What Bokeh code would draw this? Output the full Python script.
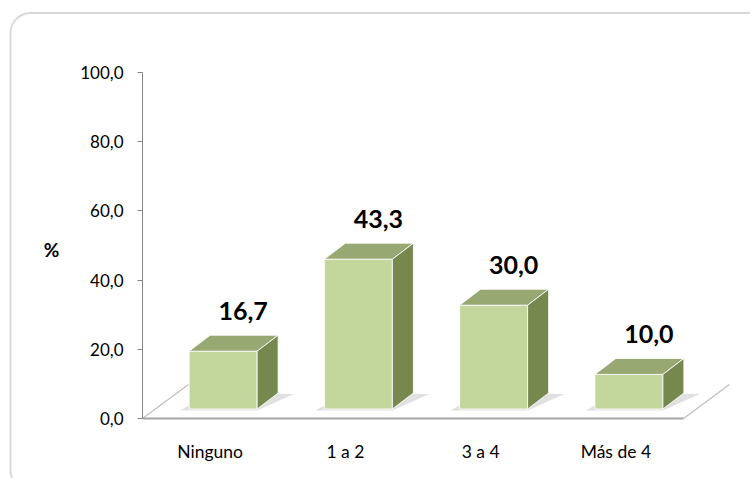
from bokeh.plotting import figure
from bokeh.models import Range1d, FixedTicker, BoxAnnotation, Label, ColumnDataSource
from bokeh.embed import file_html
from bokeh.resources import INLINE
from bokeh.core.properties import value

# ---- data ----
categories = ["Ninguno", "1 a 2", "3 a 4", "Más de 4"]
percentages = [16.7, 43.3, 30.0, 10.0]
value_labels = ["16,7", "43,3", "30,0", "10,0"]
y_ticks = [0, 20, 40, 60, 80, 100]
y_tick_labels = ["0,0", "20,0", "40,0", "60,0", "80,0", "100,0"]

# ---- layout constants (pixels) ----
W, H = 750, 478
AX_X, AX_Y = 142, 418          # pixel position of the axes origin (from top-left)
PXX = (683 - 142) / 4.0        # pixels per category unit
PXY = 3.46                     # pixels per percent unit

FRONT = "#C3D69B"
TOPC = "#98A872"
SIDE = "#77884F"

p = figure(width=W, height=H, output_backend="svg", toolbar_location=None,
           x_range=Range1d(-AX_X / PXX, (W - AX_X) / PXX),
           y_range=Range1d(-(H - AX_Y) / PXY, AX_Y / PXY),
           min_border_left=0, min_border_right=0,
           min_border_top=0, min_border_bottom=0, min_border=0)
p.outline_line_color = None
p.xgrid.visible = False
p.ygrid.visible = False
p.background_fill_color = "white"
p.border_fill_color = "white"

# y axis
yax = p.yaxis[0]
yax.fixed_location = 0
yax.ticker = FixedTicker(ticks=y_ticks)
yax.major_label_overrides = {t: l for t, l in zip(y_ticks, y_tick_labels)}
yax.bounds = (0, 100)
yax.axis_line_color = "#868686"
yax.major_tick_line_color = "#868686"
yax.major_tick_out = 5
yax.major_tick_in = 0
yax.minor_tick_line_color = None
yax.major_label_standoff = 14
yax.major_label_text_font = "Lato"
yax.major_label_text_font_size = "17px"
yax.major_label_text_color = "#000000"

# x axis (front edge of floor)
n = len(categories)
centers = [i + 0.5 for i in range(n)]
xax = p.xaxis[0]
xax.fixed_location = 0
xax.ticker = FixedTicker(ticks=centers)
xax.major_label_overrides = {c: lab for c, lab in zip(centers, categories)}
xax.bounds = (0, n)
xax.axis_line_color = "#A6A6A6"
xax.axis_line_width = 2
xax.major_tick_line_color = None
xax.minor_tick_line_color = None
xax.major_label_standoff = 16
xax.major_label_text_font = "Lato"
xax.major_label_text_font_size = "17.5px"
xax.major_label_text_color = "#000000"

# rounded chart-area border
p.add_layout(BoxAnnotation(left=10, right=767, top=H - 12.5, bottom=H - 490,
                           left_units="screen", right_units="screen",
                           top_units="screen", bottom_units="screen",
                           fill_color=None, fill_alpha=0,
                           line_color="#7A7A7A", line_width=1.8,
                           border_radius=20, level="overlay"))

# floor side edges
fdx, fdy = 46 / PXX, 34 / PXY
p.segment(x0=[0, n], y0=[0, 0], x1=[0 + fdx, n + fdx], y1=[fdy, fdy],
          line_color="#BFBFBF", line_width=1.2)

# 3D bars
fx, fy = 13 / PXX, 9.5 / PXY
hw = 34 / PXX
dx, dy = 21 / PXX, 16 / PXY
lefts = [c + fx - hw for c in centers]
rights = [c + fx + hw for c in centers]
bottoms = [fy] * n
tops = [v + fy for v in percentages]

sh_xs, sh_ys, top_xs, top_ys, side_xs, side_ys = [], [], [], [], [], []
for l, r, b, t in zip(lefts, rights, bottoms, tops):
    sh_xs.append([l - 9 / PXX, r, r + dx + 16 / PXX, l + dx])
    sh_ys.append([b - 1.5 / PXY, b - 1.5 / PXY, b + dy - 1 / PXY, b + dy])
    top_xs.append([l, r, r + dx, l + dx])
    top_ys.append([t, t, t + dy, t + dy])
    side_xs.append([r, r + dx, r + dx, r])
    side_ys.append([b, b + dy, t + dy, t])

p.patches(xs=sh_xs, ys=sh_ys, fill_color="#9A9A9A", fill_alpha=0.3, line_color=None)
p.quad(left=lefts, right=rights, bottom=bottoms, top=tops,
       fill_color=FRONT, line_color="white", line_width=1, line_alpha=0.85)
p.patches(xs=top_xs, ys=top_ys, fill_color=TOPC, line_color="white", line_width=1, line_alpha=0.85)
p.patches(xs=side_xs, ys=side_ys, fill_color=SIDE, line_color="white", line_width=1, line_alpha=0.85)

# value labels
src = ColumnDataSource(dict(x=centers, y=percentages, t=value_labels))
p.text(x="x", y="y", text="t", source=src, x_offset=33, y_offset=-50,
       text_align="center", text_baseline="middle",
       text_font=value("Lato"), text_font_style="bold",
       text_font_size="25px", text_color="#000000")

# "%" axis title
p.add_layout(Label(x=51, y=H - 249, x_units="screen", y_units="screen",
                   text="%", text_align="center", text_baseline="middle",
                   text_font="Lato", text_font_style="bold", text_font_size="19px",
                   text_color="#000000"))

open("out.html", "w").write(file_html(p, INLINE))
